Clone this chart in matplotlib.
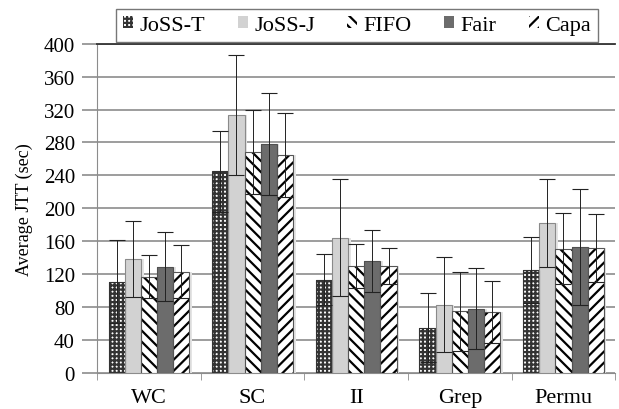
import matplotlib
matplotlib.use("Agg")
import matplotlib.pyplot as plt
import numpy as np

categories = ["WC", "SC", "II", "Grep", "Permu"]
series = ["JoSS-T", "JoSS-J", "FIFO", "Fair", "Capa"]
values = {
    "JoSS-T": [111, 245, 113, 55, 125],
    "JoSS-J": [138, 313, 164, 83, 182],
    "FIFO":   [117, 268, 130, 75, 151],
    "Fair":   [129, 278, 136, 78, 153],
    "Capa":   [123, 265, 130, 74, 152],
}
errors = {
    "JoSS-T": [50, 49, 31, 42, 40],
    "JoSS-J": [46, 73, 71, 58, 53],
    "FIFO":   [26, 51, 27, 48, 43],
    "Fair":   [42, 62, 38, 49, 70],
    "Capa":   [32, 51, 22, 38, 41],
}
yticks = list(range(0, 401, 40))

styles = {
    "JoSS-T": dict(face="white", hatch="++++", hcol="#333333", edge="#333333"),
    "JoSS-J": dict(face="#d2d2d2", hatch=None, hcol="#8a8a8a", edge="#8a8a8a"),
    "FIFO":   dict(face="white", hatch="\\\\\\", hcol="black", edge="#555555"),
    "Fair":   dict(face="#6c6c6c", hatch=None, hcol="#505050", edge="#505050"),
    "Capa":   dict(face="white", hatch="///", hcol="black", edge="#555555"),
}

plt.rcParams["font.family"] = ["Liberation Serif", "DejaVu Serif"]
plt.rcParams["hatch.linewidth"] = 1.6

fig = plt.figure(figsize=(6.19, 4.10), dpi=100)
ax = fig.add_axes([0.157, 0.088, 0.837, 0.803])

x = np.arange(len(categories))
w = 0.156
handles = []
for i, s in enumerate(series):
    st = styles[s]
    pos = x + (i - 2) * w
    # soft shadow on the right
    ax.bar(pos + 0.025, values[s], w, color="#e4e4e4", linewidth=0, zorder=2.5)
    b = ax.bar(pos, values[s], w, color=st["face"], hatch=st["hatch"],
               edgecolor=st["hcol"], linewidth=0, zorder=3)
    ax.bar(pos, values[s], w, fill=False, edgecolor=st["edge"], linewidth=0.8, zorder=3.1)
    ax.errorbar(pos, values[s], yerr=errors[s], fmt="none", ecolor="#222222",
                elinewidth=0.7, capsize=6, capthick=0.8, zorder=4)
    handles.append(b)

ax.set_ylim(0, 400)
ax.set_xlim(-0.5, len(categories) - 0.5)
ax.set_yticks(yticks)
ax.set_yticklabels([str(t) for t in yticks], fontsize=15)
ax.yaxis.grid(True, color="#8c8c8c", linewidth=1.2, zorder=0)
ax.set_axisbelow(True)
ax.set_xticks(x)
ax.set_xticklabels(categories, fontsize=16)
ax.set_xticks(np.arange(-0.5, len(categories) + 0.5, 1), minor=True)
ax.tick_params(axis="x", which="major", length=0, pad=11)
ax.tick_params(axis="x", which="minor", length=5, color="#8c8c8c", direction="out")
ax.tick_params(axis="y", length=11, width=1.2, color="#8c8c8c", direction="out", pad=5)
ax.spines["right"].set_visible(False)
ax.spines["top"].set_color("#333333")
ax.spines["top"].set_linewidth(1.3)
ax.spines["left"].set_color("#8c8c8c")
ax.spines["bottom"].set_color("#8c8c8c")
ax.set_ylabel("Average JTT (sec)", fontsize=13, labelpad=8)

leg = fig.legend(handles, series, loc="upper center", bbox_to_anchor=(0.577, 0.975),
                 ncol=5, frameon=True, fancybox=False, edgecolor="#555555",
                 fontsize=16, handlelength=0.45, handleheight=0.45, handletextpad=0.3,
                 columnspacing=1.45, borderpad=0.3, borderaxespad=0)
leg.get_frame().set_linewidth(1.0)

fig.savefig("out.png", dpi=100)
